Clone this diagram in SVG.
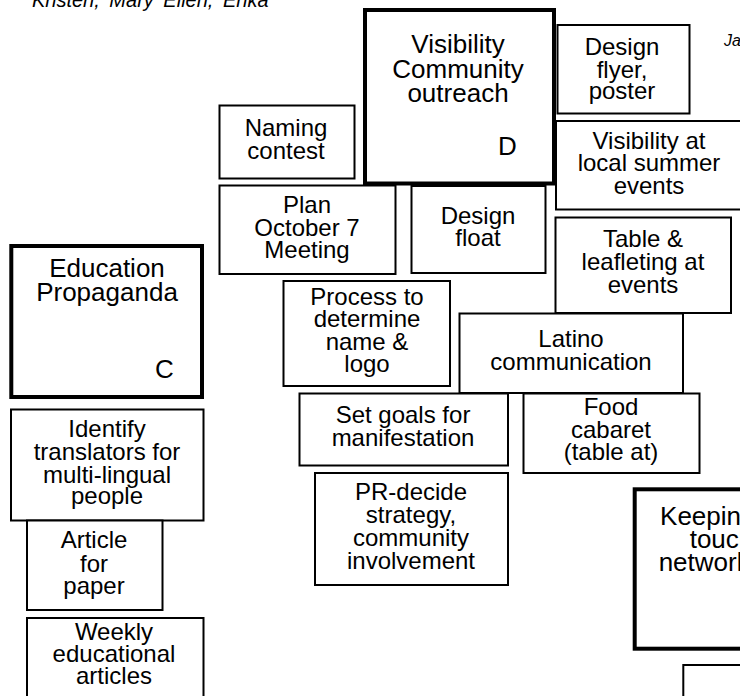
<svg xmlns="http://www.w3.org/2000/svg" width="740" height="696" viewBox="0 0 740 696">
<style>
.box{fill:#fff;stroke:#000;stroke-width:2}
.big{fill:#fff;stroke:#000;stroke-width:4}
text{font-family:"Liberation Sans",Arial,sans-serif;fill:#000}
.t{font-size:24px;text-anchor:middle}
.T{font-size:26px;text-anchor:middle}
.L{font-size:26px}
.it{font-style:italic}
</style>
<rect width="740" height="696" fill="#fff"/>
<text class="it" x="32" y="7" font-size="20" word-spacing="4">Kristen, Mary Ellen, Erika</text>
<text class="it" x="724" y="46" font-size="16">Ja</text>

<g id="connectors"></g>

<g id="node-visibility">
<rect class="big" x="365" y="10" width="189" height="173.5"/>
<text class="T"><tspan x="458" y="53">Visibility</tspan><tspan x="458" y="77.5">Community</tspan><tspan x="458" y="102">outreach</tspan></text>
<text class="L" x="498" y="155">D</text>
</g>
<g id="node-flyer">
<rect class="box" x="557.5" y="25" width="132" height="88.5"/>
<text class="t"><tspan x="622" y="55">Design</tspan><tspan x="622" y="77.5">flyer,</tspan><tspan x="622" y="99">poster</tspan></text>
</g>
<g id="node-summer">
<rect class="box" x="556" y="121" width="200" height="88.5"/>
<text class="t"><tspan x="649" y="148.5">Visibility at</tspan><tspan x="649" y="171">local summer</tspan><tspan x="649" y="193.5">events</tspan></text>
</g>
<g id="node-naming">
<rect class="box" x="219.5" y="105.5" width="135" height="73"/>
<text class="t"><tspan x="286" y="136">Naming</tspan><tspan x="286" y="159">contest</tspan></text>
</g>
<g id="node-plan">
<rect class="box" x="219.5" y="185.5" width="176" height="88.5"/>
<text class="t"><tspan x="307" y="213">Plan</tspan><tspan x="307" y="235.5">October 7</tspan><tspan x="307" y="258">Meeting</tspan></text>
</g>
<g id="node-float">
<rect class="box" x="411.5" y="186" width="134" height="87"/>
<text class="t"><tspan x="478" y="224">Design</tspan><tspan x="478" y="246">float</tspan></text>
</g>
<g id="node-table">
<rect class="box" x="555.5" y="217.5" width="175.5" height="95.5"/>
<text class="t"><tspan x="643" y="247">Table &amp;</tspan><tspan x="643" y="270">leafleting at</tspan><tspan x="643" y="292.5">events</tspan></text>
</g>
<g id="node-latino">
<rect class="box" x="459.5" y="313.5" width="223.5" height="79.5"/>
<text class="t"><tspan x="571" y="347">Latino</tspan><tspan x="571" y="370">communication</tspan></text>
</g>
<g id="node-food">
<rect class="box" x="523.5" y="393.5" width="176" height="79.5"/>
<text class="t"><tspan x="611" y="415">Food</tspan><tspan x="611" y="438">cabaret</tspan><tspan x="611" y="460">(table at)</tspan></text>
</g>
<g id="node-process">
<rect class="box" x="283.5" y="281" width="166.5" height="105"/>
<text class="t"><tspan x="367" y="304.5">Process to</tspan><tspan x="367" y="327">determine</tspan><tspan x="367" y="349.5">name &amp;</tspan><tspan x="367" y="372">logo</tspan></text>
</g>
<g id="node-goals">
<rect class="box" x="299.5" y="393.5" width="208.5" height="72"/>
<text class="t"><tspan x="403" y="423">Set goals for</tspan><tspan x="403" y="445.5">manifestation</tspan></text>
</g>
<g id="node-pr">
<rect class="box" x="315" y="473" width="193" height="112"/>
<text class="t"><tspan x="411" y="500">PR-decide</tspan><tspan x="411" y="523">strategy,</tspan><tspan x="411" y="545.5">community</tspan><tspan x="411" y="568.5">involvement</tspan></text>
</g>
<g id="node-education">
<rect class="big" x="11.3" y="246" width="190.7" height="151"/>
<text class="T"><tspan x="107" y="277">Education</tspan><tspan x="107" y="301">Propaganda</tspan></text>
<text class="L" x="155" y="378">C</text>
</g>
<g id="node-translators">
<rect class="box" x="11" y="409.5" width="192.5" height="111"/>
<text class="t"><tspan x="107" y="437">Identify</tspan><tspan x="107" y="460">translators for</tspan><tspan x="107" y="482.5">multi-lingual</tspan><tspan x="107" y="504">people</tspan></text>
</g>
<g id="node-article">
<rect class="box" x="27" y="520.5" width="135.5" height="89.5"/>
<text class="t"><tspan x="94" y="548">Article</tspan><tspan x="94" y="571.5">for</tspan><tspan x="94" y="593.5">paper</tspan></text>
</g>
<g id="node-weekly">
<rect class="box" x="27" y="618" width="176.5" height="100"/>
<text class="t"><tspan x="114" y="639.5">Weekly</tspan><tspan x="114" y="662">educational</tspan><tspan x="114" y="683.5">articles</tspan></text>
</g>
<g id="node-keeping">
<rect class="big" x="634.7" y="489.3" width="150" height="159.4"/>
<text class="T"><tspan x="721.5" y="525">Keeping in</tspan><tspan x="721.5" y="548">touch</tspan><tspan x="721.5" y="571">networking</tspan></text>
</g>
<g id="node-bottom-right">
<rect class="box" x="683.3" y="665" width="100" height="60"/>
</g>
</svg>
